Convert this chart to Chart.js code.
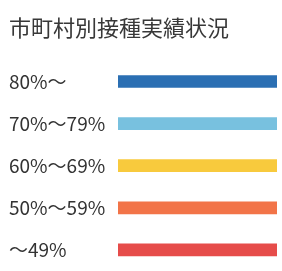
<!DOCTYPE html>
<html>
<head>
<meta charset="utf-8">
<script src="https://cdn.jsdelivr.net/npm/chart.js@4"></script>
<style>
  html, body { margin: 0; padding: 0; background: #fff; }
  #wrap { width: 282px; height: 271px; }
</style>
</head>
<body>
<div id="wrap"><canvas id="c"></canvas></div>
<script>
// 凡例の区分（接種率）
const titleText = '市町村別接種実績状況';
const rangeLabels = ['80%～', '70%～79%', '60%～69%', '50%～59%', '～49%'];
const barValues = [1, 1, 1, 1, 1];
const barColors = ['#2b6fb3', '#78c1df', '#f8ca3d', '#f27448', '#e64c4a'];

const ctx = document.getElementById('c').getContext('2d');
new Chart(ctx, {
    type: 'bar',
    data: {
        labels: rangeLabels,
        datasets: [{
            data: barValues,
            backgroundColor: barColors,
            borderWidth: 0,
            barThickness: 12
        }]
    },
    options: {
        indexAxis: 'y',
        responsive: true,
        maintainAspectRatio: false,
        animation: false,
        layout: { padding: { left: 9, right: 5, top: 0, bottom: 0 } },
        plugins: {
            legend: { display: false },
            tooltip: { enabled: false },
            title: {
                display: true,
                text: titleText,
                align: 'start',
                color: '#383838',
                font: { family: '"Noto Sans CJK JP"', size: 22, weight: 'normal' },
                padding: { top: 14, bottom: 20 }
            }
        },
        scales: {
            x: {
                display: false,
                min: 0,
                max: 1
            },
            y: {
                grid: { display: false },
                border: { display: false },
                afterFit: function(scale) {
                    // ラベル分の上下余白を無くす
                    scale.width = 109;
                    scale.paddingTop = 0;
                    scale.paddingBottom = 0;
                },
                ticks: {
                    crossAlign: 'far',
                    color: '#333',
                    padding: 4,
                    font: { family: '"Noto Sans CJK JP"', size: 19 }
                }
            }
        }
    }
});
</script>
</body>
</html>
